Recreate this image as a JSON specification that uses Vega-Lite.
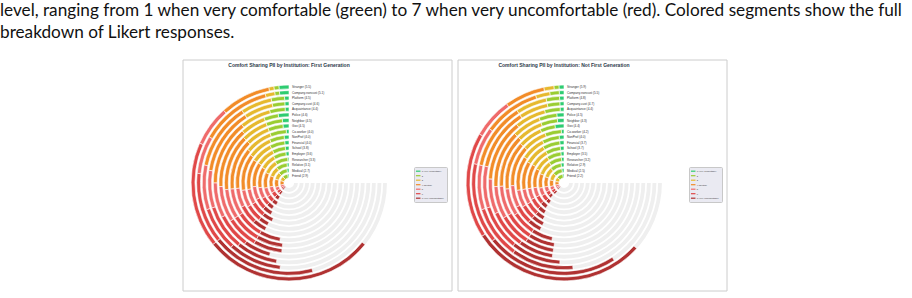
{
  "$schema": "https://vega.github.io/schema/vega-lite/v6.json",
  "padding": {"left": 0, "top": 2, "right": 0, "bottom": 0},
  "background": "white",
  "config": {
    "font": "Liberation Sans",
    "view": {"stroke": null},
    "legend": {
      "orient": "none",
      "legendX": 231,
      "legendY": 107,
      "title": "Likert Scale",
      "titleFontSize": 2.6,
      "titleFontWeight": "normal",
      "titleColor": "#333",
      "titleAnchor": "middle",
      "titlePadding": 1.2,
      "labelFontSize": 2.2,
      "labelColor": "#333",
      "labelOffset": 1.5,
      "symbolType": "M-1.3,-0.35H1.3V0.35H-1.3Z",
      "symbolSize": 12,
      "symbolStrokeWidth": 0,
      "rowPadding": 0.5,
      "padding": 2.2,
      "fillColor": "#eaeaf2",
      "strokeColor": "#c8c8c8",
      "cornerRadius": 1
    }
  },
  "title": {
    "text": [
      "level, ranging from 1 when very comfortable (green) to 7 when very uncomfortable (red). Colored segments show the full",
      "breakdown of Likert responses."
    ],
    "anchor": "start",
    "frame": "group",
    "dx": -183,
    "offset": 18,
    "font": "Lato",
    "fontSize": 17.2,
    "fontWeight": "normal",
    "color": "#111111",
    "lineHeight": 22
  },
  "datasets": {
    "firstGen": [
      {"inst": "Stranger", "1 (Very comfortable)": 2, "2": 1, "3": 1, "4 (Neutral)": 10, "5": 8, "6": 21, "7 (Very uncomfortable)": 34},
      {"inst": "Company-noncust", "1 (Very comfortable)": 2, "2": 1, "3": 2, "4 (Neutral)": 15, "5": 8, "6": 15, "7 (Very uncomfortable)": 22},
      {"inst": "Platform", "1 (Very comfortable)": 1, "2": 3, "3": 7, "4 (Neutral)": 15, "5": 10, "6": 10, "7 (Very uncomfortable)": 12},
      {"inst": "Company-cust", "1 (Very comfortable)": 1, "2": 3, "3": 7, "4 (Neutral)": 16, "5": 9, "6": 11, "7 (Very uncomfortable)": 10},
      {"inst": "Acquaintance", "1 (Very comfortable)": 1, "2": 4, "3": 8, "4 (Neutral)": 17, "5": 9, "6": 9, "7 (Very uncomfortable)": 7},
      {"inst": "Police", "1 (Very comfortable)": 3, "2": 4, "3": 7, "4 (Neutral)": 17, "5": 10, "6": 9, "7 (Very uncomfortable)": 8},
      {"inst": "Neighbor", "1 (Very comfortable)": 2, "2": 5, "3": 8, "4 (Neutral)": 17, "5": 9, "6": 9, "7 (Very uncomfortable)": 8},
      {"inst": "Gov", "1 (Very comfortable)": 2, "2": 5, "3": 8, "4 (Neutral)": 17, "5": 9, "6": 9, "7 (Very uncomfortable)": 7},
      {"inst": "Co-worker", "1 (Very comfortable)": 1, "2": 6, "3": 10, "4 (Neutral)": 15, "5": 7, "6": 7, "7 (Very uncomfortable)": 5},
      {"inst": "NonProf", "1 (Very comfortable)": 2, "2": 6, "3": 10, "4 (Neutral)": 15, "5": 7, "6": 7, "7 (Very uncomfortable)": 4},
      {"inst": "Financial", "1 (Very comfortable)": 2, "2": 7, "3": 10, "4 (Neutral)": 14, "5": 7, "6": 7, "7 (Very uncomfortable)": 5},
      {"inst": "School", "1 (Very comfortable)": 2, "2": 7, "3": 10, "4 (Neutral)": 13, "5": 7, "6": 6, "7 (Very uncomfortable)": 5},
      {"inst": "Employer", "1 (Very comfortable)": 2, "2": 8, "3": 10, "4 (Neutral)": 13, "5": 7, "6": 5, "7 (Very uncomfortable)": 4},
      {"inst": "Researcher", "1 (Very comfortable)": 1, "2": 10, "3": 11, "4 (Neutral)": 12, "5": 7, "6": 5, "7 (Very uncomfortable)": 4},
      {"inst": "Relative", "1 (Very comfortable)": 2, "2": 11, "3": 10, "4 (Neutral)": 11, "5": 6, "6": 5, "7 (Very uncomfortable)": 4},
      {"inst": "Medical", "1 (Very comfortable)": 3, "2": 12, "3": 10, "4 (Neutral)": 11, "5": 5, "6": 4, "7 (Very uncomfortable)": 3},
      {"inst": "Friend", "1 (Very comfortable)": 3, "2": 12, "3": 10, "4 (Neutral)": 10, "5": 5, "6": 4, "7 (Very uncomfortable)": 3}
    ],
    "notFirstGen": [
      {"inst": "Stranger", "1 (Very comfortable)": 1, "2": 1, "3": 2, "4 (Neutral)": 8, "5": 8, "6": 21, "7 (Very uncomfortable)": 35},
      {"inst": "Company-noncust", "1 (Very comfortable)": 1, "2": 2, "3": 3, "4 (Neutral)": 12, "5": 8, "6": 17, "7 (Very uncomfortable)": 28},
      {"inst": "Platform", "1 (Very comfortable)": 1, "2": 3, "3": 7, "4 (Neutral)": 15, "5": 10, "6": 12, "7 (Very uncomfortable)": 14},
      {"inst": "Company-cust", "1 (Very comfortable)": 1, "2": 3, "3": 7, "4 (Neutral)": 15, "5": 10, "6": 11, "7 (Very uncomfortable)": 12},
      {"inst": "Acquaintance", "1 (Very comfortable)": 1, "2": 4, "3": 8, "4 (Neutral)": 16, "5": 9, "6": 10, "7 (Very uncomfortable)": 9},
      {"inst": "Police", "1 (Very comfortable)": 2, "2": 5, "3": 8, "4 (Neutral)": 16, "5": 9, "6": 9, "7 (Very uncomfortable)": 8},
      {"inst": "Neighbor", "1 (Very comfortable)": 2, "2": 5, "3": 8, "4 (Neutral)": 16, "5": 9, "6": 9, "7 (Very uncomfortable)": 8},
      {"inst": "Gov", "1 (Very comfortable)": 3, "2": 5, "3": 8, "4 (Neutral)": 16, "5": 9, "6": 8, "7 (Very uncomfortable)": 7},
      {"inst": "Co-worker", "1 (Very comfortable)": 1, "2": 6, "3": 9, "4 (Neutral)": 15, "5": 8, "6": 7, "7 (Very uncomfortable)": 5},
      {"inst": "NonProf", "1 (Very comfortable)": 2, "2": 7, "3": 10, "4 (Neutral)": 14, "5": 7, "6": 6, "7 (Very uncomfortable)": 5},
      {"inst": "Financial", "1 (Very comfortable)": 2, "2": 8, "3": 10, "4 (Neutral)": 13, "5": 7, "6": 6, "7 (Very uncomfortable)": 4},
      {"inst": "School", "1 (Very comfortable)": 2, "2": 8, "3": 10, "4 (Neutral)": 13, "5": 6, "6": 6, "7 (Very uncomfortable)": 4},
      {"inst": "Employer", "1 (Very comfortable)": 2, "2": 9, "3": 10, "4 (Neutral)": 12, "5": 6, "6": 5, "7 (Very uncomfortable)": 4},
      {"inst": "Researcher", "1 (Very comfortable)": 2, "2": 10, "3": 11, "4 (Neutral)": 11, "5": 6, "6": 5, "7 (Very uncomfortable)": 3},
      {"inst": "Relative", "1 (Very comfortable)": 3, "2": 11, "3": 10, "4 (Neutral)": 10, "5": 5, "6": 4, "7 (Very uncomfortable)": 3},
      {"inst": "Medical", "1 (Very comfortable)": 3, "2": 13, "3": 10, "4 (Neutral)": 9, "5": 5, "6": 4, "7 (Very uncomfortable)": 3},
      {"inst": "Friend", "1 (Very comfortable)": 3, "2": 14, "3": 10, "4 (Neutral)": 8, "5": 5, "6": 3, "7 (Very uncomfortable)": 3}
    ],
    "labelsFirstGen": [
      {"inst": "Stranger", "label": "Stranger (5.5)"},
      {"inst": "Company-noncust", "label": "Company-noncust (5.1)"},
      {"inst": "Platform", "label": "Platform (4.5)"},
      {"inst": "Company-cust", "label": "Company-cust (4.6)"},
      {"inst": "Acquaintance", "label": "Acquaintance (4.4)"},
      {"inst": "Police", "label": "Police (4.6)"},
      {"inst": "Neighbor", "label": "Neighbor (4.5)"},
      {"inst": "Gov", "label": "Gov (4.5)"},
      {"inst": "Co-worker", "label": "Co-worker (4.0)"},
      {"inst": "NonProf", "label": "NonProf (4.0)"},
      {"inst": "Financial", "label": "Financial (4.0)"},
      {"inst": "School", "label": "School (3.8)"},
      {"inst": "Employer", "label": "Employer (3.6)"},
      {"inst": "Researcher", "label": "Researcher (3.3)"},
      {"inst": "Relative", "label": "Relative (3.1)"},
      {"inst": "Medical", "label": "Medical (2.7)"},
      {"inst": "Friend", "label": "Friend (2.9)"}
    ],
    "labelsNotFirstGen": [
      {"inst": "Stranger", "label": "Stranger (5.9)"},
      {"inst": "Company-noncust", "label": "Company-noncust (5.5)"},
      {"inst": "Platform", "label": "Platform (4.8)"},
      {"inst": "Company-cust", "label": "Company-cust (4.7)"},
      {"inst": "Acquaintance", "label": "Acquaintance (4.4)"},
      {"inst": "Police", "label": "Police (4.5)"},
      {"inst": "Neighbor", "label": "Neighbor (4.3)"},
      {"inst": "Gov", "label": "Gov (4.4)"},
      {"inst": "Co-worker", "label": "Co-worker (4.2)"},
      {"inst": "NonProf", "label": "NonProf (4.0)"},
      {"inst": "Financial", "label": "Financial (3.7)"},
      {"inst": "School", "label": "School (3.7)"},
      {"inst": "Employer", "label": "Employer (3.5)"},
      {"inst": "Researcher", "label": "Researcher (3.2)"},
      {"inst": "Relative", "label": "Relative (2.9)"},
      {"inst": "Medical", "label": "Medical (2.5)"},
      {"inst": "Friend", "label": "Friend (2.2)"}
    ]
  },
  "hconcat": [
    {
      "width": 269,
      "height": 231,
      "title": {"text": "Comfort Sharing PII by Institution: First Generation", "fontSize": 5, "fontWeight": "bold", "color": "#2d3a4a", "anchor": "middle", "frame": "group", "dx": -28.5, "offset": -10, "baseline": "middle"},
      "layer": [
        {
          "data": {"values": [{"frame": "figure"}]},
          "mark": {"type": "rect", "fill": "transparent", "stroke": "#cccccc", "strokeWidth": 1},
          "encoding": {}
        },
        {
          "data": {"name": "labelsFirstGen"},
          "mark": {"type": "arc", "x": 106, "y": 123, "radiusOffset": 1.9, "radius2Offset": -1.9, "color": "#efefef"},
          "encoding": {
            "theta": {"datum": 0, "type": "quantitative", "scale": {"domain": [0, 90], "range": [0, -4.71238898]}},
            "theta2": {"datum": 90},
            "radius": {"field": "inst", "type": "ordinal", "scale": {"type": "point", "padding": 0, "range": [7, 96], "domain": ["Friend", "Medical", "Relative", "Researcher", "Employer", "School", "Financial", "NonProf", "Co-worker", "Gov", "Neighbor", "Police", "Acquaintance", "Company-cust", "Platform", "Company-noncust", "Stranger"]}},
            "radius2": {"field": "inst"}
          }
        },
        {
          "data": {"name": "firstGen"},
          "transform": [
            {"fold": ["1 (Very comfortable)", "2", "3", "4 (Neutral)", "5", "6", "7 (Very uncomfortable)"], "as": ["level", "n"]},
            {"stack": "n", "groupby": ["inst"], "sort": [{"field": "level", "order": "ascending"}], "as": ["n0", "n1"]}
          ],
          "mark": {"type": "arc", "x": 106, "y": 123, "radiusOffset": 1.9, "radius2Offset": -1.9, "stroke": "white", "strokeWidth": 0.6},
          "encoding": {
            "theta": {"field": "n0", "type": "quantitative", "stack": null},
            "theta2": {"field": "n1"},
            "radius": {"field": "inst", "type": "ordinal"},
            "radius2": {"field": "inst"},
            "color": {"field": "level", "type": "nominal", "scale": {"domain": ["1 (Very comfortable)", "2", "3", "4 (Neutral)", "5", "6", "7 (Very uncomfortable)"], "range": ["#2ecc71", "#9acd32", "#e6b92e", "#f28c28", "#ef6b6b", "#e04848", "#b03232"]}}
          }
        },
        {
          "data": {"name": "labelsFirstGen"},
          "mark": {"type": "text", "x": 106, "y": 123, "align": "left", "baseline": "middle", "dx": 3, "fontSize": 3.1, "color": "#333333"},
          "encoding": {
            "theta": {"datum": 0, "type": "quantitative"},
            "radius": {"field": "inst", "type": "ordinal"},
            "text": {"field": "label"}
          }
        }
      ]
    },
    {
      "width": 269,
      "height": 231,
      "title": {"text": "Comfort Sharing PII by Institution: Not First Generation", "fontSize": 5, "fontWeight": "bold", "color": "#2d3a4a", "anchor": "middle", "frame": "group", "dx": -28.5, "offset": -10, "baseline": "middle"},
      "layer": [
        {
          "data": {"values": [{"frame": "figure"}]},
          "mark": {"type": "rect", "fill": "transparent", "stroke": "#cccccc", "strokeWidth": 1},
          "encoding": {}
        },
        {
          "data": {"name": "labelsNotFirstGen"},
          "mark": {"type": "arc", "x": 106, "y": 123, "radiusOffset": 1.9, "radius2Offset": -1.9, "color": "#efefef"},
          "encoding": {
            "theta": {"datum": 0, "type": "quantitative", "scale": {"domain": [0, 90], "range": [0, -4.71238898]}},
            "theta2": {"datum": 90},
            "radius": {"field": "inst", "type": "ordinal", "scale": {"type": "point", "padding": 0, "range": [7, 96], "domain": ["Friend", "Medical", "Relative", "Researcher", "Employer", "School", "Financial", "NonProf", "Co-worker", "Gov", "Neighbor", "Police", "Acquaintance", "Company-cust", "Platform", "Company-noncust", "Stranger"]}},
            "radius2": {"field": "inst"}
          }
        },
        {
          "data": {"name": "notFirstGen"},
          "transform": [
            {"fold": ["1 (Very comfortable)", "2", "3", "4 (Neutral)", "5", "6", "7 (Very uncomfortable)"], "as": ["level", "n"]},
            {"stack": "n", "groupby": ["inst"], "sort": [{"field": "level", "order": "ascending"}], "as": ["n0", "n1"]}
          ],
          "mark": {"type": "arc", "x": 106, "y": 123, "radiusOffset": 1.9, "radius2Offset": -1.9, "stroke": "white", "strokeWidth": 0.6},
          "encoding": {
            "theta": {"field": "n0", "type": "quantitative", "stack": null},
            "theta2": {"field": "n1"},
            "radius": {"field": "inst", "type": "ordinal"},
            "radius2": {"field": "inst"},
            "color": {"field": "level", "type": "nominal", "scale": {"domain": ["1 (Very comfortable)", "2", "3", "4 (Neutral)", "5", "6", "7 (Very uncomfortable)"], "range": ["#2ecc71", "#9acd32", "#e6b92e", "#f28c28", "#ef6b6b", "#e04848", "#b03232"]}}
          }
        },
        {
          "data": {"name": "labelsNotFirstGen"},
          "mark": {"type": "text", "x": 106, "y": 123, "align": "left", "baseline": "middle", "dx": 3, "fontSize": 3.1, "color": "#333333"},
          "encoding": {
            "theta": {"datum": 0, "type": "quantitative"},
            "radius": {"field": "inst", "type": "ordinal"},
            "text": {"field": "label"}
          }
        }
      ]
    }
  ],
  "spacing": 6,
  "bounds": "flush",
  "resolve": {"legend": {"color": "independent"}, "scale": {"theta": "independent", "radius": "independent"}}
}
